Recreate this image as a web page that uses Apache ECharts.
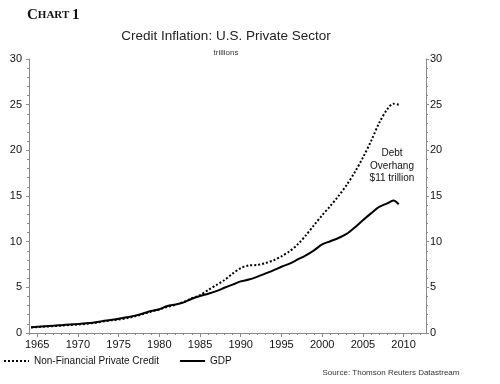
<!DOCTYPE html>
<html>
<head>
<meta charset="utf-8">
<script src="https://cdn.jsdelivr.net/npm/echarts@6/dist/echarts.min.js"></script>
<style>html,body{margin:0;padding:0;background:#fff;}#c{width:500px;height:384px;}</style>
</head>
<body>
<div id="c"></div>
<script>
var creditYears = [1964.25,1965,1966,1967,1968,1969,1970,1971,1972,1973,1974,1975,1976,1977,1978,1979,1980,1981,1982,1983,1984,1985,1986,1987,1988,1989,1990,1991,1992,1993,1994,1995,1996,1997,1998,1999,2000,2001,2002,2003,2004,2005,2006,2007,2008,2008.75,2009.4];
var creditValues = [0.60,0.65,0.70,0.75,0.82,0.88,0.93,1.00,1.10,1.25,1.38,1.48,1.62,1.82,2.08,2.35,2.58,2.85,3.10,3.40,3.80,4.15,4.70,5.25,5.80,6.50,7.10,7.40,7.45,7.65,7.95,8.40,8.95,9.70,10.70,11.80,12.90,13.90,15.00,16.20,17.60,19.20,21.00,23.00,24.50,25.10,25.00];
var gdpYears = [1964.25,1965,1966,1967,1968,1969,1970,1971,1972,1973,1974,1975,1976,1977,1978,1979,1980,1981,1982,1983,1984,1985,1986,1987,1988,1989,1990,1991,1992,1993,1994,1995,1996,1997,1998,1999,2000,2001,2002,2003,2004,2005,2006,2007,2008,2008.75,2009.4];
var gdpValues = [0.63,0.68,0.74,0.79,0.86,0.93,0.99,1.06,1.16,1.30,1.42,1.55,1.72,1.90,2.14,2.40,2.60,2.95,3.12,3.35,3.75,4.05,4.30,4.58,4.95,5.30,5.65,5.85,6.15,6.50,6.85,7.25,7.60,8.05,8.50,9.05,9.70,10.05,10.40,10.85,11.55,12.35,13.10,13.80,14.20,14.50,14.10];
var xTickLabels = [1965,1970,1975,1980,1985,1990,1995,2000,2005,2010];
var xMinorTicks = [];
for (var y = 1964; y <= 2012; y++) xMinorTicks.push(y);
var creditName = 'Non-Financial Private Credit';
var gdpName = 'GDP';

function pairs(xs, vs){ return xs.map(function(x,i){return [x, vs[i]];}); }

var chart = echarts.init(document.getElementById('c'), null, {renderer:'canvas'});
var axisCol = '#8a8a8a';
var labelStyle = {color:'#111', fontFamily:'Liberation Sans, Arial, sans-serif', fontSize:11};
chart.setOption({
  animation:false,
  backgroundColor:'#fff',
  grid:{left:29, right:74, top:59, bottom:51, containLabel:false},
  graphic:[
    {type:'text', left:27, top:8, style:{
      text:'{a|C}{b|HART }{a|1}',
      rich:{a:{fontFamily:'Liberation Serif, Times New Roman, serif', fontWeight:'bold', fontSize:15, fill:'#111'},
            b:{fontFamily:'Liberation Serif, Times New Roman, serif', fontWeight:'bold', fontSize:11, fill:'#111'}}}},
    {type:'text', x:226, y:36, style:{text:'Credit Inflation: U.S. Private Sector', textAlign:'center', textVerticalAlign:'middle', fontFamily:'Liberation Sans, Arial, sans-serif', fontSize:13.5, fill:'#222'}},
    {type:'text', x:226, y:53, style:{text:'trillions', textAlign:'center', textVerticalAlign:'middle', fontFamily:'Liberation Sans, Arial, sans-serif', fontSize:8, fill:'#333'}},
    {type:'text', x:392, y:166, style:{text:'Debt\nOverhang\n$11 trillion', textAlign:'center', textVerticalAlign:'middle', lineHeight:12.5, fontFamily:'Liberation Sans, Arial, sans-serif', fontSize:10, fill:'#111'}},
    {type:'text', x:391, y:373, style:{text:'Source: Thomson Reuters Datastream', textAlign:'center', textVerticalAlign:'middle', fontFamily:'Liberation Sans, Arial, sans-serif', fontSize:8, fill:'#333'}}
  ],
  legend:{
    left:3, top:356, padding:0, itemWidth:25, itemHeight:10, itemGap:20,
    itemStyle:{opacity:0},
    textStyle:{color:'#111', fontFamily:'Liberation Sans, Arial, sans-serif', fontSize:10},
    data:[creditName, gdpName]
  },
  xAxis:[
    {type:'value', min:1964, max:2012.75, position:'bottom',
     axisLine:{show:true, lineStyle:{color:axisCol, width:1}},
     axisTick:{show:true, inside:false, length:4, lineStyle:{color:axisCol}, customValues:xTickLabels},
     axisLabel:{show:true, customValues:xTickLabels, margin:6, formatter:function(v){return String(v);}, color:'#111', fontFamily:'Liberation Sans, Arial, sans-serif', fontSize:11},
     splitLine:{show:false}},
    {type:'value', min:1964, max:2012.75, position:'bottom',
     axisLine:{show:false},
     axisTick:{show:true, length:2, lineStyle:{color:axisCol}, customValues:xMinorTicks},
     axisLabel:{show:false},
     splitLine:{show:false}}
  ],
  yAxis:[
    {type:'value', min:0, max:30, interval:5, position:'left',
     axisLine:{show:true, lineStyle:{color:axisCol}},
     axisTick:{show:true, length:3, lineStyle:{color:axisCol}},
     minorTick:{show:true, splitNumber:5, length:2, lineStyle:{color:axisCol}},
     axisLabel:Object.assign({margin:7}, labelStyle),
     splitLine:{show:false}},
    {type:'value', min:0, max:30, interval:5, position:'right',
     axisLine:{show:true, lineStyle:{color:axisCol}},
     axisTick:{show:true, length:3, lineStyle:{color:axisCol}},
     minorTick:{show:true, splitNumber:5, length:2, lineStyle:{color:axisCol}},
     axisLabel:Object.assign({margin:4}, labelStyle),
     splitLine:{show:false}}
  ],
  series:[
    {name:creditName, type:'line', xAxisIndex:0, yAxisIndex:0, showSymbol:false, symbol:'none', smooth:0.3,
     data:pairs(creditYears, creditValues),
     lineStyle:{color:'#000', width:2, type:[2,2]}, itemStyle:{color:'#000'}},
    {name:gdpName, type:'line', xAxisIndex:0, yAxisIndex:0, showSymbol:false, symbol:'none', smooth:0.3,
     data:pairs(gdpYears, gdpValues),
     lineStyle:{color:'#000', width:2}, itemStyle:{color:'#000'}}
  ]
});
</script>
</body>
</html>
